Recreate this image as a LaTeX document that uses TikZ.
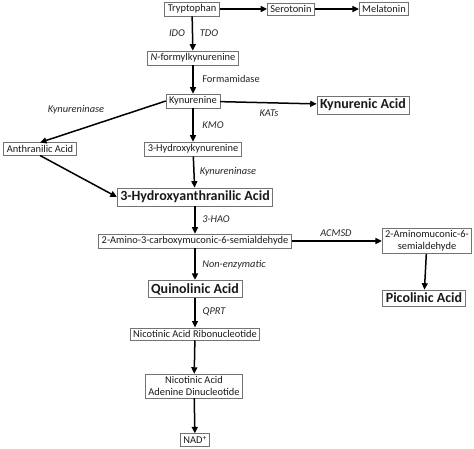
\documentclass[tikz,border=0pt]{standalone}
\usepackage{fontspec}
\setmainfont{Carlito}
\usetikzlibrary{arrows.meta}
\tikzset{
    box/.style={draw=black!55, line width=0.7pt, text=black!90, inner xsep=3pt, inner ysep=2.5pt, font=\fontsize{10.4}{11.5}\selectfont},
    bigbox/.style={box, inner ysep=3pt, font=\fontsize{14}{16}\selectfont\bfseries},
    enz/.style={text=black!85, font=\fontsize{10.4}{12}\selectfont\itshape},
    arr/.style={line width=1.5pt, -{Triangle[length=6.5pt,width=6pt]}}
}
\begin{document}
\begin{tikzpicture}[x=1pt,y=-1pt]
    \useasboundingbox (0,0) rectangle (474,449);
    % serotonin branch
    \node[box] (trp) at (192,9) {Tryptophan};
    \node[box] (ser) at (291,9) {Serotonin};
    \node[box] (mel) at (384,9) {Melatonin};
    \draw[arr] (trp) -- (ser);
    \draw[arr] (ser) -- (mel);
    % kynurenine
    \node[box] (nfk) at (193,58) {\textit{N}-formylkynurenine};
    \node[box] (kyn) at (193,101) {Kynurenine};
    \node[bigbox] (kyna) at (363,105) {Kynurenic Acid};
    \draw[arr] (trp) -- (nfk);
    \draw[arr] (nfk) -- (kyn);
    \draw[arr] (kyn) -- (kyna);
    \node[enz] (ido) at (177,33) {IDO};
    \node[enz] (tdo) at (209,33) {TDO};
    \node[enz,font=\fontsize{10.4}{12}\selectfont] (fam) at (231,79) {Formamidase};
    \node[enz] (kats) at (269,113) {KATs};
    % anthranilic and 3-hydroxykynurenine
    \node[box] (aa) at (40,149) {Anthranilic Acid};
    \node[box] (hk) at (193,149) {3-Hydroxykynurenine};
    \node[bigbox] (haa) at (195,197) {3-Hydroxyanthranilic Acid};
    \draw[arr] (kyn.west) -- (aa.north);
    \draw[arr] (kyn) -- (hk);
    \draw[arr] (aa.south) -- (haa.west);
    \draw[arr] (hk) -- (haa);
    \node[enz] (kynase1) at (76,110) {Kynureninase};
    \node[enz] (kmo) at (213,125) {KMO};
    \node[enz] (kynase2) at (228,172) {Kynureninase};
    % semialdehyde
    \node[box] (acms) at (195,241) {2-Amino-3-carboxymuconic-6-semialdehyde};
    \node[box, align=center] (ams) at (427,241) {2-Aminomuconic-6-\\semialdehyde};
    \node[bigbox] (qa) at (195,289) {Quinolinic Acid};
    \node[bigbox] (pa) at (424,298) {Picolinic Acid};
    \draw[arr] (haa) -- (acms);
    \draw[arr] (acms) -- (ams);
    \draw[arr] (acms) -- (qa);
    \draw[arr] (ams) -- (pa);
    \node[enz] (hao) at (216,219) {3-HAO};
    \node[enz] (acmsd) at (336,233) {ACMSD};
    \node[enz] (nonenz) at (234,265) {Non-enzymatic};
    % NAD+ synthesis
    \node[box] (namn) at (195,334) {Nicotinic Acid Ribonucleotide};
    \node[box, align=center] (naad) at (194,386) {Nicotinic Acid\\Adenine Dinucleotide};
    \node[box] (nad) at (195,440) {NAD\textsuperscript{+}};
    \draw[arr] (qa) -- (namn);
    \draw[arr] (namn) -- (naad);
    \draw[arr] (naad) -- (nad);
    \node[enz] (qprt) at (214,312) {QPRT};
\end{tikzpicture}
\end{document}
